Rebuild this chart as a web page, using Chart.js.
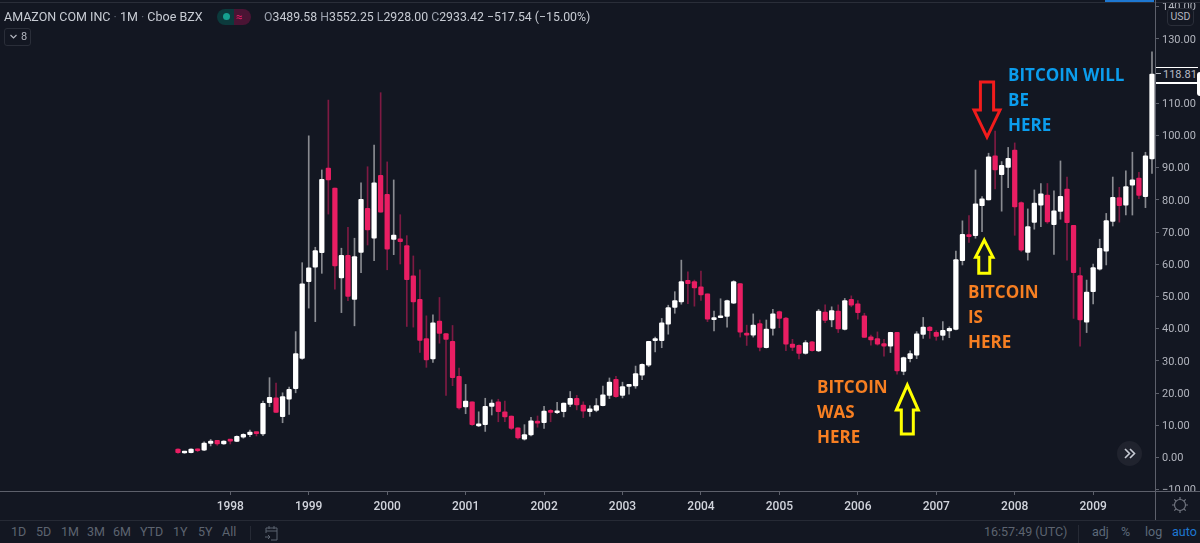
<!DOCTYPE html>
<html>
<head>
<meta charset="utf-8">
<script src="https://cdn.jsdelivr.net/npm/chart.js@4"></script>
<style>
html,body{margin:0;padding:0;background:#131722;overflow:hidden}
#wrap{position:relative;width:1200px;height:543px;font-family:Roboto,sans-serif}
canvas{position:absolute;left:0;top:0}
.o{position:absolute;white-space:nowrap}
.bar{color:#5d6470;font-size:12.5px;top:524px;line-height:16px}
</style>
</head>
<body>
<div id="wrap">
<canvas id="chart" width="1200" height="543"></canvas>

<!-- top strip -->
<div class="o" style="left:0;top:0;width:1200px;height:3px;background:#131722"></div>
<div class="o" style="left:0;top:2px;width:1200px;height:1px;background:#2a2e39"></div>
<div class="o" style="left:1105px;top:0;width:49px;height:2px;background:#1e78d2"></div>

<!-- legend -->
<div class="o" style="left:4px;top:8px;font-size:12.5px;line-height:18px;color:#c8ccd4">AMAZON COM INC <span style="color:#5d6470">·</span> 1M <span style="color:#5d6470">·</span> Cboe BZX</div>
<div class="o" style="left:217px;top:9px;width:17px;height:16px;background:#0c3a3c;border-radius:8px 0 0 8px"></div>
<div class="o" style="left:234px;top:9px;width:17px;height:16px;background:#4a1434;border-radius:0 8px 8px 0"></div>
<div class="o" style="left:222.5px;top:13px;width:7px;height:7px;border-radius:50%;background:#15a08f"></div>
<div class="o" style="left:236px;top:8px;font-size:12px;line-height:18px;color:#e91e63">≈</div>
<div class="o" style="left:264px;top:8px;font-size:12.3px;line-height:18px;color:#c8ccd4"><span style="color:#9aa0ac">O</span>3489.58 <span style="color:#9aa0ac">H</span>3552.25 <span style="color:#9aa0ac">L</span>2928.00 <span style="color:#9aa0ac">C</span>2933.42 −517.54 (−15.00%)</div>
<div class="o" style="left:4px;top:28px;width:27px;height:18px;border:1px solid #2a2e39;border-radius:3px;box-sizing:border-box"></div>
<svg class="o" style="left:9px;top:34px" width="9" height="6"><polyline points="1.5,1 4.5,4 7.5,1" fill="none" stroke="#b2b5be" stroke-width="1.2"/></svg>
<div class="o" style="left:21px;top:29px;font-size:11px;line-height:16px;color:#b2b5be">8</div>

<!-- price scale extras -->
<div class="o" style="left:1167px;top:8px;width:25px;height:16px;background:#131722;border:1px solid #2a2e39;border-radius:4px;font-size:10.5px;line-height:16px;text-align:center;color:#b2b5be">USD</div>
<div class="o" style="left:1155px;top:67px;width:43px;height:14px;background:#131722;border-top:1px solid #fff;border-bottom:2px solid #fff;font-size:11px;line-height:14px;color:#b8bcc6;text-indent:8px">118.81</div>
<div class="o" style="left:1156px;top:73px;width:5px;height:1px;background:#b2b5be"></div>
<div class="o" style="left:1197px;top:72px;width:3px;height:24px;background:#fff;border-radius:3px 0 0 3px"></div>

<!-- axis frame -->
<div class="o" style="left:1155px;top:491px;width:45px;height:29px;background:#131722"></div>
<div class="o" style="left:0;top:491px;width:1200px;height:1px;background:#5d606b"></div>
<div class="o" style="left:1155px;top:0;width:1px;height:520px;background:#5d606b"></div>
<div class="o" style="left:0;top:520px;width:1200px;height:23px;background:#131722;border-top:1px solid #262a35;box-sizing:border-box"></div>
<svg class="o" style="left:1170px;top:495px" width="20" height="20" viewBox="0 0 20 20"><circle cx="10" cy="10" r="5.5" fill="none" stroke="#70747f" stroke-width="1.2"/><path d="M10 2v2.5M10 15.5V18M2 10h2.5M15.5 10H18M4.3 4.3l1.8 1.8M13.9 13.9l1.8 1.8M4.3 15.7l1.8-1.8M13.9 6.1l1.8-1.8" stroke="#70747f" stroke-width="1.2"/></svg>

<!-- scroll button -->
<div class="o" style="left:1117px;top:441px;width:25px;height:25px;border-radius:50%;background:#20232e"></div>
<svg class="o" style="left:1123px;top:447px" width="14" height="13"><path d="M2 2l4.5 4.5L2 11M7 2l4.5 4.5L7 11" fill="none" stroke="#c8ccd4" stroke-width="1.6"/></svg>

<!-- bottom toolbar -->
<div class="o bar" style="left:11px">1D</div>
<div class="o bar" style="left:36px">5D</div>
<div class="o bar" style="left:61px">1M</div>
<div class="o bar" style="left:87px">3M</div>
<div class="o bar" style="left:113px">6M</div>
<div class="o bar" style="left:140px">YTD</div>
<div class="o bar" style="left:173px">1Y</div>
<div class="o bar" style="left:198px">5Y</div>
<div class="o bar" style="left:222px">All</div>
<div class="o" style="left:250px;width:1px;height:14px;background:#262a35;top:526px"></div>
<svg class="o" style="left:264px;top:525px" width="15" height="17"><path d="M2 8V3h11v12H7M2 6h11M5 1v3M10 1v3M1 12h5M4 10l2 2-2 2" fill="none" stroke="#5d6470" stroke-width="1"/></svg>
<div class="o bar" style="left:984px;color:#5d6470">16:57:49 (UTC)</div>
<div class="o" style="left:1078px;top:525px;width:1px;height:18px;background:#262a35"></div>
<div class="o bar" style="left:1092px;color:#5d6a7a">adj</div>
<div class="o bar" style="left:1121px;color:#5d6a7a">%</div>
<div class="o bar" style="left:1145px;color:#5d6a7a">log</div>
<div class="o bar" style="left:1172px;color:#1e78d2">auto</div>
</div>

<script>
// monthly candles, first one is May 1997
const opens = [2.6,1.4,1.5,2.6,2.3,4.4,5.3,4.2,5.3,5.0,6.3,7.1,7.9,7.3,17.0,18.5,12.7,18.1,21.4,30.8,
  54.6,59.1,63.6,89.9,83.7,55.8,62.8,49.1,63.7,77.4,68.1,87.6,81.7,67.7,67.9,65.8,56.4,49.1,36.9,30.6,
  42.4,38.5,36.1,25.2,15.7,17.3,9.8,10.2,15.9,17.3,14.2,12.9,9.2,5.7,7.0,11.2,10.8,14.3,13.9,14.2,
  16.5,18.4,16.3,14.2,14.6,16.1,19.3,24.3,19.3,22.1,22.2,25.6,28.7,36.3,36.3,41.4,46.6,48.3,55.0,54.6,
  53.0,50.8,42.8,43.4,43.8,47.9,54.0,38.6,38.0,41.6,34.1,40.1,45.3,43.3,35.2,34.8,32.3,35.9,33.1,45.2,
  42.7,45.5,39.8,49.1,47.7,44.0,37.5,36.9,35.4,34.6,38.9,26.7,30.7,31.8,38.2,40.5,38.9,37.9,39.3,39.8,
  61.1,69.1,68.9,78.2,80.0,93.7,87.8,90.1,95.5,79.2,63.7,73.0,78.4,81.5,72.3,76.4,83.4,72.1,56.5,42.0,
  51.5,58.5,64.1,73.3,80.7,78.4,84.6,86.8,81.0,92.7];
const highs = [2.7,1.8,2.7,2.7,4.9,5.6,5.3,5.2,5.6,6.7,7.4,8.5,7.9,17.5,24.8,23.1,20.1,21.9,39.1,60.5,
  99.9,65.3,89.3,111.0,83.7,65.0,71.5,68.1,85.3,90.3,97.0,113.3,91.8,86.2,75.4,68.9,62.6,58.3,44.0,44.3,
  49.7,38.5,41.0,27.8,22.7,17.3,14.2,18.4,17.9,18.1,17.5,12.9,9.2,10.2,12.5,12.9,15.9,14.9,17.1,16.9,
  20.5,19.3,17.3,16.1,18.3,22.2,24.7,25.2,23.4,22.6,28.4,29.1,36.1,37.4,43.2,47.3,51.5,61.3,57.7,55.1,
  57.9,50.8,45.5,49.3,48.9,54.9,54.0,41.1,44.6,42.7,42.7,46.0,45.5,43.5,36.7,35.0,36.3,36.1,46.0,47.4,
  46.8,47.4,49.4,50.2,48.7,44.8,38.0,39.0,36.7,38.9,38.9,31.2,33.1,39.1,43.5,40.7,39.4,42.2,40.6,64.1,
  73.5,75.1,89.3,81.0,94.5,101.4,91.9,96.3,97.7,79.4,77.2,83.1,85.1,85.1,82.8,92.1,87.1,72.1,59.0,55.1,
  60.1,67.8,75.8,87.1,83.9,89.0,94.8,88.6,94.8,126.0];
const lows = [1.3,1.3,1.4,1.8,2.1,3.6,3.8,4.1,4.2,4.9,6.0,6.5,6.7,6.8,15.8,14.0,10.8,13.4,20.1,30.5,
  46.4,42.2,57.2,75.6,52.3,45.0,48.7,40.9,57.4,66.0,61.1,76.2,58.3,63.0,60.1,40.7,40.5,32.6,28.0,29.5,
  35.5,19.3,22.3,15.0,13.6,10.0,9.6,8.1,13.2,11.1,11.1,8.7,5.7,5.4,6.7,9.4,9.0,11.1,13.6,12.6,
  15.8,14.8,12.4,12.8,14.2,16.0,18.3,18.7,18.5,19.7,21.5,24.2,28.2,32.8,34.1,38.3,44.8,47.6,47.8,47.0,
  48.8,42.2,39.3,43.4,40.5,47.8,37.4,34.8,37.4,33.1,34.0,38.0,40.3,33.2,33.2,30.6,32.1,33.0,32.9,41.9,
  40.6,38.8,39.6,46.8,43.0,37.3,34.9,34.9,31.5,32.6,25.9,25.7,29.7,30.7,37.0,37.0,36.4,36.5,37.2,39.6,
  59.8,66.8,68.1,70.1,80.0,83.4,76.5,83.8,69.0,64.0,61.3,70.9,71.7,72.7,63.1,74.0,61.3,43.2,34.6,38.8,
  47.7,58.2,59.8,71.9,73.1,75.3,75.3,80.4,77.6,88.2];
const closes = [1.5,1.7,2.6,2.1,4.5,5.1,4.2,5.1,5.1,6.6,7.2,7.9,7.4,16.8,18.7,14.0,18.9,21.2,32.3,53.9,
  58.9,64.3,86.4,86.2,59.5,62.8,50.0,62.4,80.2,70.7,85.3,76.2,64.7,69.1,67.0,55.2,48.3,36.4,30.3,41.8,
  38.5,36.7,24.8,15.4,17.5,10.2,10.4,15.9,16.9,14.2,12.6,9.0,6.1,7.1,11.4,10.7,14.4,14.0,14.3,16.9,
  18.4,16.3,14.4,15.1,16.1,19.5,23.4,18.9,22.0,22.4,26.1,28.9,36.1,36.8,41.8,46.6,48.7,54.6,54.0,52.7,
  50.5,43.0,43.4,43.8,48.7,54.6,38.9,38.0,41.1,34.2,39.9,44.6,43.2,35.2,34.2,32.3,35.7,33.2,45.5,42.6,
  45.6,39.9,48.7,47.3,45.0,37.3,36.5,35.2,34.6,38.9,26.9,31.0,32.3,38.4,40.5,39.4,37.6,39.5,40.1,61.5,
  69.3,68.6,78.8,80.3,93.4,89.3,90.7,92.9,77.8,64.4,71.7,79.0,81.9,73.2,76.6,81.1,72.9,57.4,42.7,51.4,
  59.0,65.0,73.6,80.8,78.2,84.1,86.2,81.4,93.7,119.1];
const monthIndex = opens.map((_, i) => i);

const yearIndex = [8,20,32,44,56,68,80,92,104,116,128,140];
const yearLabels = ['1998','1999','2000','2001','2002','2003','2004','2005','2006','2007','2008','2009'];

// annotations, anchored in month index / price
const arrows = [
  { month: 123.76, price: 99.5, dir: 1,  head: 13, shaft: 6.6, headH: 27, total: 55, color: '#f21c1c' },
  { month: 123.34, price: 67.5, dir: -1, head: 8.7, shaft: 5.5, headH: 17, total: 33, color: '#ffff00' },
  { month: 111.57, price: 22.5, dir: -1, head: 11, shaft: 6, headH: 25, total: 49, color: '#ffff00' }
];
const notes = [
  { month: 126.97, price: 118.5, lines: ['BITCOIN WILL','BE','HERE'], color: '#0b9ded' },
  { month: 120.85, price: 51.1,  lines: ['BITCOIN','IS','HERE'], color: '#f77f22' },
  { month: 97.75,  price: 21.6,  lines: ['BITCOIN','WAS','HERE'], color: '#f77f22' }
];

const up = '#ffffff', down = '#e91e63';
const upWick = 'rgba(255,255,255,0.5)', downWick = 'rgba(233,30,99,0.5)';
const isUp = i => closes[i] >= opens[i];

const annotationPlugin = {
  id: 'annotations',
  afterDatasetsDraw(chart) {
    const { ctx, scales: { x, y } } = chart;
    ctx.save();
    arrows.forEach(a => {
      const tx = x.getPixelForValue(a.month), ty = y.getPixelForValue(a.price);
      const d = a.dir;
      ctx.beginPath();
      ctx.moveTo(tx, ty);
      ctx.lineTo(tx + a.head, ty - d * a.headH);
      ctx.lineTo(tx + a.shaft, ty - d * a.headH);
      ctx.lineTo(tx + a.shaft, ty - d * a.total);
      ctx.lineTo(tx - a.shaft, ty - d * a.total);
      ctx.lineTo(tx - a.shaft, ty - d * a.headH);
      ctx.lineTo(tx - a.head, ty - d * a.headH);
      ctx.closePath();
      ctx.strokeStyle = a.color;
      ctx.lineWidth = 3;
      ctx.stroke();
    });
    ctx.font = '700 17px "Open Sans"';
    ctx.textAlign = 'left';
    ctx.textBaseline = 'middle';
    notes.forEach(n => {
      const nx = x.getPixelForValue(n.month), ny = y.getPixelForValue(n.price);
      ctx.fillStyle = n.color;
      n.lines.forEach((t, k) => ctx.fillText(t, nx, ny + k * 25));
    });
    ctx.restore();
  }
};

new Chart(document.getElementById('chart'), {
  type: 'bar',
  data: {
    labels: monthIndex,
    datasets: [
      {
        label: 'body',
        data: monthIndex.map(i => [opens[i], closes[i]]),
        backgroundColor: monthIndex.map(i => isUp(i) ? up : down),
        barThickness: 4.6,
        minBarLength: 2,
        borderRadius: 1,
        borderSkipped: false,
        grouped: false,
        order: 1
      },
      {
        label: 'wick',
        data: monthIndex.map(i => [lows[i], highs[i]]),
        backgroundColor: monthIndex.map(i => isUp(i) ? upWick : downWick),
        barThickness: 1,
        grouped: false,
        order: 2
      }
    ]
  },
  options: {
    responsive: false,
    animation: false,
    devicePixelRatio: 1,
    layout: { padding: { top: 3 } },
    plugins: { legend: { display: false }, tooltip: { enabled: false } },
    scales: {
      x: {
        type: 'linear',
        offset: false,
        min: -27.23,
        max: 149.46,
        afterBuildTicks: s => { s.ticks = yearIndex.map(v => ({ value: v })); },
        afterFit: s => { s.height = 52; },
        border: { display: false },
        grid: { drawOnChartArea: false, offset: false, tickLength: 4, color: '#5d606b' },
        ticks: {
          autoSkip: false,
          maxRotation: 0,
          padding: 5,
          color: '#d1d4dc',
          font: { family: 'Roboto', size: 12, weight: '500' },
          callback: v => yearLabels[yearIndex.indexOf(v)]
        }
      },
      y: {
        position: 'right',
        min: -10.4,
        max: 141.15,
        // labels may run past the plot, no room kept for them
        afterFit: s => { s.width = 45; s.paddingTop = 0; s.paddingBottom = 0; },
        border: { display: false },
        grid: { drawOnChartArea: false, tickLength: 4, color: '#5d606b' },
        ticks: {
          stepSize: 10,
          includeBounds: false,
          padding: 3,
          labelOffset: 1,
          color: '#b2b5be',
          font: { family: 'Roboto', size: 11 },
          callback: v => (v < 0 ? '−' + Math.abs(v).toFixed(2) : v.toFixed(2))
        }
      }
    }
  },
  plugins: [annotationPlugin]
});
</script>
</body>
</html>
